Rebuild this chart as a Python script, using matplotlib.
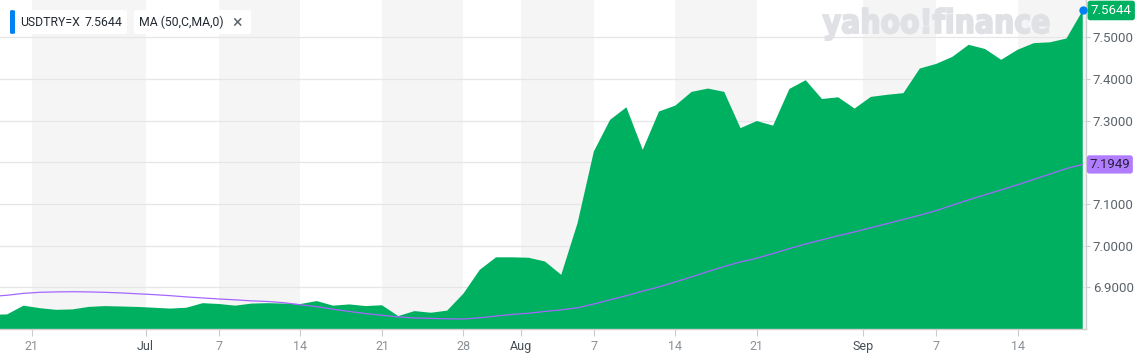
import matplotlib
matplotlib.use("Agg")
import matplotlib.pyplot as plt
import matplotlib.transforms as mtransforms
from matplotlib.patches import FancyBboxPatch, PathPatch
from matplotlib.textpath import TextPath
from matplotlib.font_manager import FontProperties
import numpy as np

plt.rcParams['font.family'] = ['Roboto', 'DejaVu Sans']

# USDTRY=X daily close, one value per trading day (Jun 17 -> Sep 18)
close = [6.834, 6.835, 6.856, 6.850, 6.846, 6.847, 6.853, 6.855, 6.854, 6.853,
         6.851, 6.849, 6.851, 6.862, 6.860, 6.856, 6.861, 6.862, 6.861, 6.860,
         6.867, 6.856, 6.859, 6.855, 6.857, 6.831, 6.843, 6.839, 6.844, 6.885,
         6.942, 6.972, 6.972, 6.971, 6.962, 6.930, 7.054, 7.226, 7.302, 7.332,
         7.230, 7.322, 7.336, 7.369, 7.377, 7.369, 7.282, 7.299, 7.288, 7.376,
         7.397, 7.352, 7.356, 7.329, 7.357, 7.362, 7.366, 7.425, 7.436, 7.453,
         7.482, 7.472, 7.446, 7.470, 7.486, 7.488, 7.497, 7.5644]

# MA (50,C,MA,0)
ma50 = [6.878, 6.881, 6.8855, 6.888, 6.889, 6.8895, 6.889, 6.888, 6.8865, 6.8845,
        6.8825, 6.880, 6.877, 6.8745, 6.872, 6.870, 6.8675, 6.866, 6.863, 6.858,
        6.8535, 6.8475, 6.842, 6.837, 6.833, 6.829, 6.8265, 6.8255, 6.8245, 6.824,
        6.827, 6.831, 6.835, 6.838, 6.842, 6.846, 6.851, 6.860, 6.870, 6.880,
        6.891, 6.901, 6.913, 6.925, 6.938, 6.950, 6.961, 6.970, 6.981, 6.993,
        7.004, 7.014, 7.024, 7.033, 7.043, 7.053, 7.063, 7.073, 7.084, 7.097,
        7.110, 7.122, 7.134, 7.146, 7.159, 7.172, 7.185, 7.1949]

# x tick positions (trading-day index, Jun 18 = 0) and labels
tick_pos = [1.5, 8.5, 13, 18, 23, 28, 31.5, 36, 41, 46, 52.5, 57, 62]
tick_lab = ['21', 'Jul', '7', '14', '21', '28', 'Aug', '7', '14', '21', 'Sep', '7', '14']
months = ['Jul', 'Aug', 'Sep']

y_ticks = [6.9, 7.0, 7.1, 7.2, 7.3, 7.4, 7.5]

W, H = 1141, 359
fig = plt.figure(figsize=(W / 100, H / 100), dpi=100)
ax = fig.add_axes([0, 30 / H, 1086 / W, 329 / H])

x = np.arange(len(close)) - 1
xmin, xmax = -0.439, 66.2
ymin, ymax = 6.80, 7.5895

# alternating week bands
for i in range(0, len(tick_pos), 2):
    right = tick_pos[i + 1] if i + 1 < len(tick_pos) else xmax
    ax.axvspan(tick_pos[i], right, color='#f5f5f5', lw=0, zorder=0.1)

ax.set_axisbelow(True)
ax.grid(axis='y', color='#e6e6e6', lw=0.9)
ax.grid(axis='x', visible=False)

# watermark
fp = FontProperties(family='DejaVu Sans', weight='bold')
tp = TextPath((0, 0), "yahoo!finance", size=30, prop=fp)
ext = tp.get_extents()
hh = TextPath((0, 0), "h", size=30, prop=fp).get_extents().height
tr = mtransforms.Affine2D().translate(-ext.x0, 0).scale(226 / ext.width, 25 / hh).translate(823, H - 33)
ax.add_patch(PathPatch(tp, transform=tr, facecolor='#dfe1e5', edgecolor='#dfe1e5', lw=1.3, zorder=0.8))

ax.fill_between(x, close, ymin - 1, color='#00b061', lw=0, zorder=1)
ax.plot(x, ma50, color='#a566ff', lw=0.9, zorder=2)
ax.plot(x[-1], close[-1], 'o', color='#0081f2', ms=6, mew=0, zorder=6, clip_on=False)

ax.set_xlim(xmin, xmax)
ax.set_ylim(ymin, ymax)

ax.set_xticks(tick_pos)
ax.set_xticklabels(tick_lab)
for lab in ax.get_xticklabels():
    lab.set_color('#464e56' if lab.get_text() in months else '#8a9096')
ax.tick_params(axis='x', length=5, width=0.8, color='#cccccc', pad=3, labelsize=9)

# 7.2000 sits under the MA flag in the original, so its label is left blank
ax.yaxis.tick_right()
ax.set_yticks(y_ticks)
ax.set_yticklabels(['' if abs(v - 7.2) < 1e-9 else '%.4f' % v for v in y_ticks])
ax.tick_params(axis='y', length=3, width=0.8, color='#cccccc', pad=2, labelsize=9.5,
               labelcolor='#5b636a')

for s in ['top', 'left']:
    ax.spines[s].set_visible(False)
for s in ['right', 'bottom']:
    ax.spines[s].set_color('#cfcfcf')
    ax.spines[s].set_linewidth(1.0)

# value flags on the right axis
ax.annotate('%.4f' % close[-1], xy=(1, close[-1]), xycoords=('axes fraction', 'data'),
            xytext=(3.5, 0), textcoords='offset points', ha='left', va='center',
            fontsize=9.5, color='white', annotation_clip=False, zorder=10,
            bbox=dict(boxstyle='round,pad=0.25,rounding_size=0.2', fc='#00b061', ec='none'))
ax.annotate('%.4f' % ma50[-1], xy=(1, ma50[-1]), xycoords=('axes fraction', 'data'),
            xytext=(2.5, 0), textcoords='offset points', ha='left', va='center',
            fontsize=9.5, color='#2a1f3d', annotation_clip=False, zorder=10,
            bbox=dict(boxstyle='round,pad=0.2,rounding_size=0.2', fc='#b07dff', ec='none'))


# legend chips (pixel coords from top-left)
def fx(px):
    return px / W


def fy(py):
    return 1 - py / H


fig.patches.append(FancyBboxPatch((fx(15), fy(34)), fx(112), 24 / H, boxstyle='round,pad=0,rounding_size=0.004',
                                  transform=fig.transFigure, fc='white', ec='none', zorder=5))
fig.patches.append(FancyBboxPatch((fx(134), fy(34)), fx(117), 24 / H, boxstyle='round,pad=0,rounding_size=0.004',
                                  transform=fig.transFigure, fc='white', ec='none', zorder=5))
fig.patches.append(FancyBboxPatch((fx(10), fy(34)), fx(5), 24 / H, boxstyle='round,pad=0,rounding_size=0.003',
                                  transform=fig.transFigure, fc='#0081f2', ec='none', zorder=6))
fig.text(fx(20.5), fy(22.5), 'USDTRY=X', fontsize=8.8, color='#232a31', va='center', zorder=7)
fig.text(fx(85), fy(22.5), '%.4f' % close[-1], fontsize=8.8, color='#232a31', va='center', zorder=7)
fig.text(fx(139), fy(22.5), 'MA (50,C,MA,0)', fontsize=8.8, color='#232a31', va='center', zorder=7)
fig.text(fx(237.5), fy(22.5), '\u00d7', fontsize=13, color='#5b636a', va='center', ha='center', zorder=7)

fig.savefig('out.png', dpi=100)
